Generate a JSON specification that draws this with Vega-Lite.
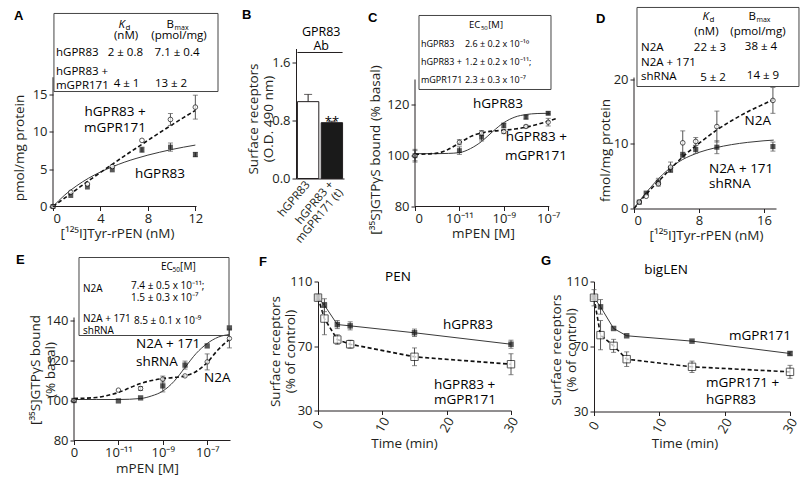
{
"$schema": "https://vega.github.io/schema/vega-lite/v6.json",
"padding": {"left": 12, "top": 6.5, "right": 2, "bottom": 2},
"config": {
 "font": "Open Sans",
 "view": {"stroke": null},
 "axis": {"grid": false, "labelSeparation": -60, "labelBound": false, "domainColor": "#231f20", "tickColor": "#231f20", "labelColor": "#231f20", "titleColor": "#231f20", "labelFontSize": 13, "titleFontSize": 13.5, "titleFontWeight": "normal", "tickSize": 4, "labelPadding": 2, "labelFont": "Open Sans", "titleFont": "Open Sans", "domainWidth": 1, "tickWidth": 1},
 "style": {
  "letter": {"font": "Liberation Sans", "fontSize": 13, "fontWeight": "bold", "align": "left", "baseline": "alphabetic", "fill": "#231f20"},
  "tbl": {"fontSize": 11.5, "align": "left", "baseline": "alphabetic", "fill": "#231f20"},
  "lbl": {"fontSize": 13.5, "align": "left", "baseline": "alphabetic", "fill": "#231f20"}
 }
},
"datasets": {
 "A_pts": [
  {"dose": 0, "value": 0, "series": "hGPR83"},
  {"dose": 1.5, "value": 1.47, "series": "hGPR83"},
  {"dose": 2.9, "value": 2.6, "series": "hGPR83"},
  {"dose": 5, "value": 4.9, "series": "hGPR83"},
  {"dose": 7.5, "value": 7.6, "series": "hGPR83", "sem": 0.35},
  {"dose": 9.9, "value": 7.95, "series": "hGPR83", "sem": 0.55},
  {"dose": 12, "value": 6.95, "series": "hGPR83", "sem": 0.3},
  {"dose": 0, "value": 0, "series": "hGPR83 + mGPR171"},
  {"dose": 1.5, "value": 1.9, "series": "hGPR83 + mGPR171"},
  {"dose": 2.9, "value": 3.0, "series": "hGPR83 + mGPR171"},
  {"dose": 5, "value": 5.35, "series": "hGPR83 + mGPR171"},
  {"dose": 7.5, "value": 8.85, "series": "hGPR83 + mGPR171"},
  {"dose": 9.9, "value": 11.65, "series": "hGPR83 + mGPR171", "sem": 0.8},
  {"dose": 12, "value": 13.3, "series": "hGPR83 + mGPR171", "sem": 1.6}
 ],
 "A_fit": [
  {"dose": 0, "value": 0, "series": "hGPR83"},
  {"dose": 1, "value": 1.55, "series": "hGPR83"},
  {"dose": 2, "value": 2.78, "series": "hGPR83"},
  {"dose": 3, "value": 3.79, "series": "hGPR83"},
  {"dose": 4, "value": 4.62, "series": "hGPR83"},
  {"dose": 5, "value": 5.31, "series": "hGPR83"},
  {"dose": 6, "value": 5.92, "series": "hGPR83"},
  {"dose": 7, "value": 6.43, "series": "hGPR83"},
  {"dose": 8, "value": 6.88, "series": "hGPR83"},
  {"dose": 9, "value": 7.27, "series": "hGPR83"},
  {"dose": 10, "value": 7.63, "series": "hGPR83"},
  {"dose": 11, "value": 7.94, "series": "hGPR83"},
  {"dose": 12, "value": 8.22, "series": "hGPR83"},
  {"dose": 0, "value": 0, "series": "hGPR83 + mGPR171"},
  {"dose": 1, "value": 1.15, "series": "hGPR83 + mGPR171"},
  {"dose": 2, "value": 2.3, "series": "hGPR83 + mGPR171"},
  {"dose": 3, "value": 3.45, "series": "hGPR83 + mGPR171"},
  {"dose": 4, "value": 4.55, "series": "hGPR83 + mGPR171"},
  {"dose": 5, "value": 5.65, "series": "hGPR83 + mGPR171"},
  {"dose": 6, "value": 6.75, "series": "hGPR83 + mGPR171"},
  {"dose": 7, "value": 7.8, "series": "hGPR83 + mGPR171"},
  {"dose": 8, "value": 8.85, "series": "hGPR83 + mGPR171"},
  {"dose": 9, "value": 9.9, "series": "hGPR83 + mGPR171"},
  {"dose": 10, "value": 10.9, "series": "hGPR83 + mGPR171"},
  {"dose": 11, "value": 11.9, "series": "hGPR83 + mGPR171"},
  {"dose": 12, "value": 12.85, "series": "hGPR83 + mGPR171"}
 ],
 "B_bars": [
  {"group": "hGPR83", "od": 1.06, "od_upper": 1.16},
  {"group": "hGPR83 + mGPR171 (t)", "od": 0.77, "od_upper": 0.79}
 ],
 "C_pts": [
  {"log_mPEN": -13, "value": 100, "series": "hGPR83", "sem": 2},
  {"log_mPEN": -11, "value": 102, "series": "hGPR83", "sem": 1.5},
  {"log_mPEN": -10, "value": 107.3, "series": "hGPR83", "sem": 1.5},
  {"log_mPEN": -9, "value": 111.9, "series": "hGPR83", "sem": 1},
  {"log_mPEN": -8, "value": 115.2, "series": "hGPR83", "sem": 0.8},
  {"log_mPEN": -7, "value": 116.7, "series": "hGPR83", "sem": 0.6},
  {"log_mPEN": -13, "value": 100, "series": "hGPR83 + mGPR171", "sem": 2.5},
  {"log_mPEN": -11, "value": 105.3, "series": "hGPR83 + mGPR171", "sem": 1},
  {"log_mPEN": -10, "value": 108.9, "series": "hGPR83 + mGPR171", "sem": 1},
  {"log_mPEN": -9, "value": 109.5, "series": "hGPR83 + mGPR171", "sem": 0.8},
  {"log_mPEN": -8, "value": 111.5, "series": "hGPR83 + mGPR171", "sem": 0.5},
  {"log_mPEN": -7, "value": 113.2, "series": "hGPR83 + mGPR171", "sem": 1.5}
 ],
 "C_fit": [
  {"log_mPEN": -13, "value": 100.8, "series": "hGPR83"},
  {"log_mPEN": -12, "value": 100.8, "series": "hGPR83"},
  {"log_mPEN": -11.5, "value": 100.9, "series": "hGPR83"},
  {"log_mPEN": -11, "value": 101.2, "series": "hGPR83"},
  {"log_mPEN": -10.5, "value": 102.8, "series": "hGPR83"},
  {"log_mPEN": -10, "value": 105.6, "series": "hGPR83"},
  {"log_mPEN": -9.5, "value": 109.5, "series": "hGPR83"},
  {"log_mPEN": -9, "value": 113, "series": "hGPR83"},
  {"log_mPEN": -8.5, "value": 115.2, "series": "hGPR83"},
  {"log_mPEN": -8, "value": 116.2, "series": "hGPR83"},
  {"log_mPEN": -7.5, "value": 116.6, "series": "hGPR83"},
  {"log_mPEN": -7, "value": 116.7, "series": "hGPR83"},
  {"log_mPEN": -6.9, "value": 116.7, "series": "hGPR83"},
  {"log_mPEN": -13, "value": 100.5, "series": "hGPR83 + mGPR171"},
  {"log_mPEN": -12, "value": 101, "series": "hGPR83 + mGPR171"},
  {"log_mPEN": -11.5, "value": 102.5, "series": "hGPR83 + mGPR171"},
  {"log_mPEN": -11, "value": 105, "series": "hGPR83 + mGPR171"},
  {"log_mPEN": -10.5, "value": 107.5, "series": "hGPR83 + mGPR171"},
  {"log_mPEN": -10, "value": 109, "series": "hGPR83 + mGPR171"},
  {"log_mPEN": -9.5, "value": 109.7, "series": "hGPR83 + mGPR171"},
  {"log_mPEN": -9, "value": 110, "series": "hGPR83 + mGPR171"},
  {"log_mPEN": -8.5, "value": 110.5, "series": "hGPR83 + mGPR171"},
  {"log_mPEN": -8, "value": 111.2, "series": "hGPR83 + mGPR171"},
  {"log_mPEN": -7.5, "value": 112.3, "series": "hGPR83 + mGPR171"},
  {"log_mPEN": -7, "value": 113.6, "series": "hGPR83 + mGPR171"},
  {"log_mPEN": -6.65, "value": 114.6, "series": "hGPR83 + mGPR171"}
 ],
 "D_pts": [
  {"dose": 0.65, "value": 0.98, "series": "N2A + 171 shRNA"},
  {"dose": 1.5, "value": 2.38, "series": "N2A + 171 shRNA"},
  {"dose": 3, "value": 4.08, "series": "N2A + 171 shRNA", "sem": 0.6},
  {"dose": 4.5, "value": 6.05, "series": "N2A + 171 shRNA", "sem": 0.45},
  {"dose": 6, "value": 8.32, "series": "N2A + 171 shRNA", "sem": 0.4},
  {"dose": 7.6, "value": 9.15, "series": "N2A + 171 shRNA", "sem": 0.6},
  {"dose": 10.2, "value": 9.5, "series": "N2A + 171 shRNA", "sem": 1.0},
  {"dose": 17.1, "value": 9.6, "series": "N2A + 171 shRNA", "sem": 0.7},
  {"dose": 0.65, "value": 1.0, "series": "N2A"},
  {"dose": 1.5, "value": 1.9, "series": "N2A"},
  {"dose": 3, "value": 3.83, "series": "N2A"},
  {"dose": 4.5, "value": 6.4, "series": "N2A", "sem": 0.8},
  {"dose": 6, "value": 10.18, "series": "N2A", "sem": 1.85},
  {"dose": 7.6, "value": 10.4, "series": "N2A", "sem": 0.6},
  {"dose": 10.2, "value": 12.7, "series": "N2A", "sem": 2.4},
  {"dose": 17.1, "value": 16.75, "series": "N2A", "sem": 2}
 ],
 "D_fit": [
  {"dose": 0, "value": 0, "series": "N2A + 171 shRNA"},
  {"dose": 1, "value": 1.7, "series": "N2A + 171 shRNA"},
  {"dose": 2, "value": 3.2, "series": "N2A + 171 shRNA"},
  {"dose": 3, "value": 4.6, "series": "N2A + 171 shRNA"},
  {"dose": 4, "value": 5.8, "series": "N2A + 171 shRNA"},
  {"dose": 5, "value": 6.8, "series": "N2A + 171 shRNA"},
  {"dose": 6, "value": 7.6, "series": "N2A + 171 shRNA"},
  {"dose": 7, "value": 8.2, "series": "N2A + 171 shRNA"},
  {"dose": 8, "value": 8.7, "series": "N2A + 171 shRNA"},
  {"dose": 10, "value": 9.4, "series": "N2A + 171 shRNA"},
  {"dose": 12, "value": 9.9, "series": "N2A + 171 shRNA"},
  {"dose": 14, "value": 10.25, "series": "N2A + 171 shRNA"},
  {"dose": 16, "value": 10.5, "series": "N2A + 171 shRNA"},
  {"dose": 17.2, "value": 10.6, "series": "N2A + 171 shRNA"},
  {"dose": 0, "value": 0, "series": "N2A"},
  {"dose": 1, "value": 1.5, "series": "N2A"},
  {"dose": 2, "value": 2.9, "series": "N2A"},
  {"dose": 3, "value": 4.2, "series": "N2A"},
  {"dose": 4, "value": 5.5, "series": "N2A"},
  {"dose": 5, "value": 6.8, "series": "N2A"},
  {"dose": 6, "value": 8.0, "series": "N2A"},
  {"dose": 7, "value": 9.1, "series": "N2A"},
  {"dose": 8, "value": 10.1, "series": "N2A"},
  {"dose": 10, "value": 12.0, "series": "N2A"},
  {"dose": 12, "value": 13.6, "series": "N2A"},
  {"dose": 14, "value": 15.0, "series": "N2A"},
  {"dose": 16, "value": 16.2, "series": "N2A"},
  {"dose": 17.2, "value": 16.9, "series": "N2A"}
 ],
 "E_pts": [
  {"log_mPEN": -13, "value": 100, "series": "N2A + 171 shRNA"},
  {"log_mPEN": -11, "value": 99.8, "series": "N2A + 171 shRNA"},
  {"log_mPEN": -10, "value": 101.3, "series": "N2A + 171 shRNA"},
  {"log_mPEN": -9, "value": 107.3, "series": "N2A + 171 shRNA", "sem": 3},
  {"log_mPEN": -8, "value": 117.7, "series": "N2A + 171 shRNA", "sem": 2},
  {"log_mPEN": -7, "value": 127.3, "series": "N2A + 171 shRNA"},
  {"log_mPEN": -6, "value": 136.3, "series": "N2A + 171 shRNA"},
  {"log_mPEN": -13, "value": 100, "series": "N2A"},
  {"log_mPEN": -11, "value": 105.2, "series": "N2A"},
  {"log_mPEN": -10, "value": 106, "series": "N2A", "sem": 1},
  {"log_mPEN": -9, "value": 110.7, "series": "N2A", "sem": 1.5},
  {"log_mPEN": -8, "value": 112.3, "series": "N2A"},
  {"log_mPEN": -7, "value": 119.3, "series": "N2A", "sem": 4},
  {"log_mPEN": -6, "value": 131, "series": "N2A", "sem": 4.7}
 ],
 "E_fit": [
  {"log_mPEN": -13, "value": 100.5, "series": "N2A + 171 shRNA"},
  {"log_mPEN": -12, "value": 100.5, "series": "N2A + 171 shRNA"},
  {"log_mPEN": -11, "value": 100.5, "series": "N2A + 171 shRNA"},
  {"log_mPEN": -10, "value": 101, "series": "N2A + 171 shRNA"},
  {"log_mPEN": -9.5, "value": 102.3, "series": "N2A + 171 shRNA"},
  {"log_mPEN": -9, "value": 104.7, "series": "N2A + 171 shRNA"},
  {"log_mPEN": -8.5, "value": 109.5, "series": "N2A + 171 shRNA"},
  {"log_mPEN": -8, "value": 116.5, "series": "N2A + 171 shRNA"},
  {"log_mPEN": -7.5, "value": 123.5, "series": "N2A + 171 shRNA"},
  {"log_mPEN": -7, "value": 128.5, "series": "N2A + 171 shRNA"},
  {"log_mPEN": -6.5, "value": 131.7, "series": "N2A + 171 shRNA"},
  {"log_mPEN": -6, "value": 133, "series": "N2A + 171 shRNA"},
  {"log_mPEN": -13, "value": 101, "series": "N2A"},
  {"log_mPEN": -12, "value": 101.5, "series": "N2A"},
  {"log_mPEN": -11.5, "value": 102.5, "series": "N2A"},
  {"log_mPEN": -11, "value": 104, "series": "N2A"},
  {"log_mPEN": -10.5, "value": 106.3, "series": "N2A"},
  {"log_mPEN": -10, "value": 108.5, "series": "N2A"},
  {"log_mPEN": -9.5, "value": 110, "series": "N2A"},
  {"log_mPEN": -9, "value": 111, "series": "N2A"},
  {"log_mPEN": -8.5, "value": 111.5, "series": "N2A"},
  {"log_mPEN": -8, "value": 112.3, "series": "N2A"},
  {"log_mPEN": -7.5, "value": 114.5, "series": "N2A"},
  {"log_mPEN": -7, "value": 119, "series": "N2A"},
  {"log_mPEN": -6.5, "value": 125.5, "series": "N2A"},
  {"log_mPEN": -6, "value": 130.5, "series": "N2A"}
 ],
 "F_pts": [
  {"time": 0, "value": 100, "series": "hGPR83", "sem": 1},
  {"time": 1, "value": 95.3, "series": "hGPR83", "sem": 4},
  {"time": 3, "value": 83.3, "series": "hGPR83", "sem": 2.5},
  {"time": 5, "value": 82.5, "series": "hGPR83", "sem": 2.5},
  {"time": 15, "value": 78.2, "series": "hGPR83", "sem": 2.3},
  {"time": 30, "value": 71.1, "series": "hGPR83", "sem": 2.5},
  {"time": 0, "value": 100, "series": "hGPR83 + mGPR171", "sem": 2},
  {"time": 1, "value": 87, "series": "hGPR83 + mGPR171", "sem": 10},
  {"time": 3, "value": 74, "series": "hGPR83 + mGPR171", "sem": 3},
  {"time": 5, "value": 71.1, "series": "hGPR83 + mGPR171", "sem": 2.5},
  {"time": 15, "value": 63.3, "series": "hGPR83 + mGPR171", "sem": 5.5},
  {"time": 30, "value": 58.7, "series": "hGPR83 + mGPR171", "sem": 6.5}
 ],
 "G_pts": [
  {"time": 0, "value": 100, "series": "mGPR171", "sem": 1},
  {"time": 1, "value": 94.4, "series": "mGPR171", "sem": 4.5},
  {"time": 3, "value": 81.1, "series": "mGPR171"},
  {"time": 5, "value": 76.6, "series": "mGPR171"},
  {"time": 15, "value": 73.3, "series": "mGPR171"},
  {"time": 30, "value": 65.7, "series": "mGPR171", "sem": 1},
  {"time": 0, "value": 100, "series": "mGPR171 + hGPR83", "sem": 5},
  {"time": 1, "value": 77, "series": "mGPR171 + hGPR83", "sem": 9},
  {"time": 3, "value": 70.4, "series": "mGPR171 + hGPR83", "sem": 4},
  {"time": 5, "value": 62.2, "series": "mGPR171 + hGPR83", "sem": 4.5},
  {"time": 15, "value": 57.5, "series": "mGPR171 + hGPR83", "sem": 3.5},
  {"time": 30, "value": 54.4, "series": "mGPR171 + hGPR83", "sem": 4}
 ]
},
"columns": 1,
"spacing": 8,
"concat": [
 {"hconcat": [
  {
   "width": 172, "height": 158,
   "layer": [
    {
     "encoding": {
      "x": {"field": "dose", "type": "quantitative", "scale": {"domain": [0, 14.5], "nice": false, "zero": false},
       "axis": {"values": [0,1,2,3,4,5,6,7,8,9,10,11,12], "labelOverlap": false, "labelSeparation": -60, "labelExpr": "datum.value % 2 == 0 ? datum.label : ''", "domain": false, "title": "[¹²⁵I]Tyr-rPEN (nM)", "titleX": 64, "titleY": 20}},
      "y": {"field": "value", "type": "quantitative", "scale": {"domain": [0, 21.15], "nice": false, "zero": false},
       "axis": {"values": [0,5,10,15], "labelOverlap": false, "labelSeparation": -60, "domain": false, "title": "pmol/mg protein", "titleX": -26.5, "titleY": 99}}
     },
     "layer": [
      {"data": {"name": "A_fit"}, "transform": [{"filter": "datum.series == 'hGPR83'"}], "mark": {"type": "line", "interpolate": "monotone", "color": "#3a3a3a", "strokeWidth": 1}},
      {"data": {"name": "A_fit"}, "transform": [{"filter": "datum.series == 'hGPR83 + mGPR171'"}], "mark": {"type": "line", "interpolate": "monotone", "color": "#111", "strokeWidth": 1.6, "strokeDash": [4, 2.5]}},
      {"data": {"name": "A_pts"}, "transform": [{"filter": "datum.sem > 0"}], "mark": {"type": "errorbar", "ticks": true, "size": 5, "thickness": 1, "color": "#555"}, "encoding": {"yError": {"field": "sem"}}},
      {"data": {"name": "A_pts"}, "transform": [{"filter": "datum.series == 'hGPR83'"}], "mark": {"type": "point", "shape": "square", "filled": true, "size": 24, "color": "#111"}},
      {"data": {"name": "A_pts"}, "transform": [{"filter": "datum.series != 'hGPR83'"}], "mark": {"type": "point", "shape": "circle", "filled": true, "fill": "white", "stroke": "#111", "strokeWidth": 1, "size": 22}}
     ]
    },
    {"data": {"values": [{}]}, "mark": {"type": "rule", "color": "#231f20"}, "encoding": {"x": {"datum": 0}, "y": {"datum": 0}, "y2": {"datum": 17.3}}},
    {"data": {"values": [{}]}, "mark": {"type": "rule", "color": "#231f20"}, "encoding": {"x": {"datum": 0}, "x2": {"datum": 12.1}, "y": {"datum": 0}}},
    {"data": {"values": [{}]}, "mark": {"type": "rect", "filled": false, "stroke": "#444", "strokeWidth": 1}, "encoding": {"x": {"datum": 0.08}, "x2": {"datum": 13.91}, "y": {"datum": 25.84}, "y2": {"datum": 15.39}}},
    {"data": {"values": [{}]}, "mark": {"type": "text", "style": "letter", "text": "A"}, "encoding": {"x": {"datum": -3.29}, "y": {"datum": 25.03}}},
    {"data": {"values": [{}]}, "mark": {"type": "text", "style": "tbl", "text": "K", "fontStyle": "italic", "align": "right"}, "encoding": {"x": {"datum": 6.07}, "y": {"datum": 23.96}}},
    {"data": {"values": [{}]}, "mark": {"type": "text", "style": "tbl", "text": "d", "fontSize": 8}, "encoding": {"x": {"datum": 6.11}, "y": {"datum": 23.69}}},
    {"data": {"values": [{}]}, "mark": {"type": "text", "style": "tbl", "text": "(nM)", "align": "center"}, "encoding": {"x": {"datum": 6.16}, "y": {"datum": 22.36}}},
    {"data": {"values": [{}]}, "mark": {"type": "text", "style": "tbl", "text": "B", "align": "right"}, "encoding": {"x": {"datum": 10.2}, "y": {"datum": 23.96}}},
    {"data": {"values": [{}]}, "mark": {"type": "text", "style": "tbl", "text": "max", "fontSize": 7}, "encoding": {"x": {"datum": 10.25}, "y": {"datum": 23.69}}},
    {"data": {"values": [{}]}, "mark": {"type": "text", "style": "tbl", "text": "(pmol/mg)", "align": "center"}, "encoding": {"x": {"datum": 10.62}, "y": {"datum": 22.36}}},
    {"data": {"values": [{}]}, "mark": {"type": "text", "style": "tbl", "text": "hGPR83"}, "encoding": {"x": {"datum": 0.25}, "y": {"datum": 20.08}}},
    {"data": {"values": [{}]}, "mark": {"type": "text", "style": "tbl", "text": "2 ± 0.8", "align": "center"}, "encoding": {"x": {"datum": 6.1}, "y": {"datum": 20.08}}},
    {"data": {"values": [{}]}, "mark": {"type": "text", "style": "tbl", "text": "7.1 ± 0.4", "align": "center"}, "encoding": {"x": {"datum": 10.46}, "y": {"datum": 20.21}}},
    {"data": {"values": [{}]}, "mark": {"type": "text", "style": "tbl", "text": ["hGPR83 +", "mGPR171"], "lineHeight": 14}, "encoding": {"x": {"datum": 0.25}, "y": {"datum": 17.54}}},
    {"data": {"values": [{}]}, "mark": {"type": "text", "style": "tbl", "text": "4 ± 1", "align": "center"}, "encoding": {"x": {"datum": 6.2}, "y": {"datum": 16.06}}},
    {"data": {"values": [{}]}, "mark": {"type": "text", "style": "tbl", "text": "13 ± 2", "align": "center"}, "encoding": {"x": {"datum": 9.95}, "y": {"datum": 16.06}}},
    {"data": {"values": [{}]}, "mark": {"type": "text", "style": "lbl", "text": ["hGPR83 +", "mGPR171"], "align": "center", "lineHeight": 16}, "encoding": {"x": {"datum": 5.23}, "y": {"datum": 12.18}}},
    {"data": {"values": [{}]}, "mark": {"type": "text", "style": "lbl", "text": "hGPR83", "align": "center"}, "encoding": {"x": {"datum": 9.02}, "y": {"datum": 3.88}}}
   ]
  },
  {
   "width": 48, "height": 130,
   "layer": [
    {
     "data": {"name": "B_bars"},
     "encoding": {
      "x": {"field": "group", "type": "nominal", "sort": null, "scale": {"paddingInner": 0.1, "paddingOuter": 0.06},
       "axis": {"title": null, "labelOverlap": false, "labelAngle": -50, "labelAlign": "right", "labelBaseline": "middle", "labelFontSize": 11.5, "ticks": false, "labelPadding": 4, "labelLineHeight": 12, "labelExpr": "datum.value == 'hGPR83' ? 'hGPR83' : ['hGPR83 +', 'mGPR171 (t)']"}},
      "y": {"field": "od", "type": "quantitative", "scale": {"domain": [0, 1.793], "nice": false},
       "axis": {"values": [0, 0.4, 0.8, 1.2, 1.6], "labelOverlap": false, "labelSeparation": -60, "format": ".1f", "title": ["Surface receptors", "(O.D. 490 nm)"], "titleX": -36, "titleY": 70}}
     },
     "layer": [
      {"mark": {"type": "bar", "stroke": "#231f20", "strokeWidth": 1}, "encoding": {"fill": {"field": "group", "type": "nominal", "scale": {"range": ["white", "#1a1a1a"]}, "legend": null}}},
      {"mark": {"type": "rule", "color": "#231f20"}, "encoding": {"y2": {"field": "od_upper"}}},
      {"mark": {"type": "tick", "orient": "horizontal", "size": 8, "thickness": 1, "color": "#231f20"}, "encoding": {"y": {"field": "od_upper", "type": "quantitative"}}}
     ]
    },
    {"data": {"values": [{}]}, "mark": {"type": "text", "style": "letter", "text": "B", "dx": -55.4}, "encoding": {"x": {"datum": "hGPR83", "bandPosition": 0}, "y": {"datum": 2.193}}},
    {"data": {"values": [{}]}, "mark": {"type": "text", "style": "tbl", "text": "GPR83", "align": "center", "fontSize": 12.5}, "encoding": {"x": {"datum": "hGPR83 + mGPR171 (t)", "bandPosition": 0}, "y": {"datum": 1.972}}},
    {"data": {"values": [{}]}, "mark": {"type": "text", "style": "tbl", "text": "Ab", "align": "center", "fontSize": 12.5}, "encoding": {"x": {"datum": "hGPR83 + mGPR171 (t)", "bandPosition": 0}, "y": {"datum": 1.766}}},
    {"data": {"values": [{}]}, "mark": {"type": "rule", "color": "#231f20"}, "encoding": {"x": {"datum": "hGPR83", "bandPosition": 0}, "x2": {"datum": "hGPR83 + mGPR171 (t)", "bandPosition": 1}, "y": {"datum": 1.738}}},
    {"data": {"values": [{}]}, "mark": {"type": "text", "style": "tbl", "text": "**", "align": "center", "fontSize": 13}, "encoding": {"x": {"datum": "hGPR83 + mGPR171 (t)", "bandPosition": 0.5}, "y": {"datum": 0.73}}}
   ]
  },
  {
   "width": 148, "height": 158,
   "layer": [
    {
     "encoding": {
      "x": {"field": "log_mPEN", "type": "quantitative", "scale": {"domain": [-13, -6.333], "nice": false, "zero": false},
       "axis": {"values": [-13,-12,-11,-10,-9,-8,-7], "labelOverlap": false, "labelSeparation": -60, "labelExpr": "datum.value == -13 ? '0' : datum.value == -11 ? '10⁻¹¹' : datum.value == -9 ? '10⁻⁹' : datum.value == -7 ? '10⁻⁷' : ''", "domain": false, "title": "mPEN [M]", "titleX": 68, "titleY": 20}},
      "y": {"field": "value", "type": "quantitative", "scale": {"domain": [80, 142.2], "nice": false, "zero": false},
       "axis": {"values": [80,90,100,110,120,130], "labelOverlap": false, "labelSeparation": -60, "domain": false, "title": "[³⁵S]GTPγS bound (% basal)", "titleX": -33, "titleY": 101}}
     },
     "layer": [
      {"data": {"name": "C_fit"}, "transform": [{"filter": "datum.series == 'hGPR83'"}], "mark": {"type": "line", "interpolate": "monotone", "color": "#3a3a3a", "strokeWidth": 1}},
      {"data": {"name": "C_fit"}, "transform": [{"filter": "datum.series != 'hGPR83'"}], "mark": {"type": "line", "interpolate": "monotone", "color": "#111", "strokeWidth": 1.6, "strokeDash": [4, 2.5]}},
      {"data": {"name": "C_pts"}, "transform": [{"filter": "datum.sem > 0"}], "mark": {"type": "errorbar", "ticks": true, "size": 5, "thickness": 1, "color": "#555"}, "encoding": {"yError": {"field": "sem"}}},
      {"data": {"name": "C_pts"}, "transform": [{"filter": "datum.series == 'hGPR83'"}], "mark": {"type": "point", "shape": "square", "filled": true, "size": 24, "color": "#111"}},
      {"data": {"name": "C_pts"}, "transform": [{"filter": "datum.series != 'hGPR83'"}], "mark": {"type": "point", "shape": "circle", "filled": true, "fill": "white", "stroke": "#111", "strokeWidth": 1, "size": 20}}
     ]
    },
    {"data": {"values": [{}]}, "mark": {"type": "rule", "color": "#231f20"}, "encoding": {"x": {"datum": -13}, "y": {"datum": 80}, "y2": {"datum": 130}}},
    {"data": {"values": [{}]}, "mark": {"type": "rule", "color": "#231f20"}, "encoding": {"x": {"datum": -13}, "x2": {"datum": -6.95}, "y": {"datum": 80}}},
    {"data": {"values": [{}]}, "mark": {"type": "rect", "filled": false, "stroke": "#444", "strokeWidth": 1}, "encoding": {"x": {"datum": -12.82}, "x2": {"datum": -6.874}, "y": {"datum": 155.2}, "y2": {"datum": 126.06}}},
    {"data": {"values": [{}]}, "mark": {"type": "text", "style": "letter", "text": "C"}, "encoding": {"x": {"datum": -15.117}, "y": {"datum": 152.8}}},
    {"data": {"values": [{}]}, "mark": {"type": "text", "style": "tbl", "text": "EC", "fontSize": 9.5}, "encoding": {"x": {"datum": -10.568}, "y": {"datum": 150.1}}},
    {"data": {"values": [{}]}, "mark": {"type": "text", "style": "tbl", "text": "50", "fontSize": 6}, "encoding": {"x": {"datum": -10.03}, "y": {"datum": 149.3}}},
    {"data": {"values": [{}]}, "mark": {"type": "text", "style": "tbl", "text": "[M]", "fontSize": 9.5}, "encoding": {"x": {"datum": -9.7}, "y": {"datum": 150.1}}},
    {"data": {"values": [{}]}, "mark": {"type": "text", "style": "tbl", "text": ["hGPR83", "hGPR83 +", "mGPR171"], "fontSize": 9, "lineHeight": 18}, "encoding": {"x": {"datum": -12.73}, "y": {"datum": 142.6}}},
    {"data": {"values": [{}]}, "mark": {"type": "text", "style": "tbl", "text": ["2.6 ± 0.2 x 10⁻¹⁰", "1.2 ± 0.2 x 10⁻¹¹;", "2.3 ± 0.3 x 10⁻⁷"], "fontSize": 9, "lineHeight": 18}, "encoding": {"x": {"datum": -10.75}, "y": {"datum": 142.6}}},
    {"data": {"values": [{}]}, "mark": {"type": "text", "style": "lbl", "text": "hGPR83", "align": "center"}, "encoding": {"x": {"datum": -9.261}, "y": {"datum": 118.6}}},
    {"data": {"values": [{}]}, "mark": {"type": "text", "style": "lbl", "text": ["hGPR83 +", "mGPR171"], "align": "right", "lineHeight": 19}, "encoding": {"x": {"datum": -6.153}, "y": {"datum": 105.6}}}
   ]
  },
  {
   "width": 142, "height": 160,
   "layer": [
    {
     "encoding": {
      "x": {"field": "dose", "type": "quantitative", "scale": {"domain": [0, 17.48], "nice": false, "zero": false},
       "axis": {"values": [0,2,4,6,8,10,12,14,16], "labelOverlap": false, "labelSeparation": -60, "labelExpr": "datum.value % 4 == 0 ? datum.label : ''", "title": "[¹²⁵I]Tyr-rPEN (nM)", "titleX": 72, "titleY": 20}},
      "y": {"field": "value", "type": "quantitative", "scale": {"domain": [0, 24.8], "nice": false, "zero": false},
       "axis": {"values": [0,5,10,15,20], "labelOverlap": false, "labelSeparation": -60, "domain": false, "title": "fmol/mg protein", "titleX": -22, "titleY": 101.5}}
     },
     "layer": [
      {"data": {"name": "D_fit"}, "transform": [{"filter": "datum.series != 'N2A'"}], "mark": {"type": "line", "interpolate": "monotone", "color": "#3a3a3a", "strokeWidth": 1}},
      {"data": {"name": "D_fit"}, "transform": [{"filter": "datum.series == 'N2A'"}], "mark": {"type": "line", "interpolate": "monotone", "color": "#111", "strokeWidth": 1.6, "strokeDash": [4, 2.5]}},
      {"data": {"name": "D_pts"}, "transform": [{"filter": "datum.sem > 0"}], "mark": {"type": "errorbar", "ticks": true, "size": 5, "thickness": 1, "color": "#555"}, "encoding": {"yError": {"field": "sem"}}},
      {"data": {"name": "D_pts"}, "transform": [{"filter": "datum.series != 'N2A'"}], "mark": {"type": "point", "shape": "square", "filled": true, "size": 26, "color": "#111"}},
      {"data": {"name": "D_pts"}, "transform": [{"filter": "datum.series == 'N2A'"}], "mark": {"type": "point", "shape": "circle", "filled": true, "fill": "white", "stroke": "#111", "strokeWidth": 1, "size": 22}}
     ]
    },
    {"data": {"values": [{}]}, "mark": {"type": "rule", "color": "#231f20"}, "encoding": {"x": {"datum": 0}, "y": {"datum": 0}, "y2": {"datum": 20.3}}},
    {"data": {"values": [{}]}, "mark": {"type": "rect", "filled": false, "stroke": "#444", "strokeWidth": 1}, "encoding": {"x": {"datum": 0.369}, "x2": {"datum": 20.308}, "y": {"datum": 31.16}, "y2": {"datum": 18.91}}},
    {"data": {"values": [{}]}, "mark": {"type": "text", "style": "letter", "text": "D"}, "encoding": {"x": {"datum": -4.677}, "y": {"datum": 28.68}}},
    {"data": {"values": [{}]}, "mark": {"type": "text", "style": "tbl", "text": "K", "fontStyle": "italic", "align": "right"}, "encoding": {"x": {"datum": 9.23}, "y": {"datum": 29.15}}},
    {"data": {"values": [{}]}, "mark": {"type": "text", "style": "tbl", "text": "d", "fontSize": 8}, "encoding": {"x": {"datum": 9.29}, "y": {"datum": 28.84}}},
    {"data": {"values": [{}]}, "mark": {"type": "text", "style": "tbl", "text": "(nM)", "align": "center"}, "encoding": {"x": {"datum": 8.92}, "y": {"datum": 26.82}}},
    {"data": {"values": [{}]}, "mark": {"type": "text", "style": "tbl", "text": "B", "align": "right"}, "encoding": {"x": {"datum": 15.02}, "y": {"datum": 29.15}}},
    {"data": {"values": [{}]}, "mark": {"type": "text", "style": "tbl", "text": "max", "fontSize": 7}, "encoding": {"x": {"datum": 15.08}, "y": {"datum": 28.84}}},
    {"data": {"values": [{}]}, "mark": {"type": "text", "style": "tbl", "text": "(pmol/mg)", "align": "center"}, "encoding": {"x": {"datum": 15.26}, "y": {"datum": 26.82}}},
    {"data": {"values": [{}]}, "mark": {"type": "text", "style": "tbl", "text": ["N2A", "N2A + 171", "shRNA"], "lineHeight": 14.5}, "encoding": {"x": {"datum": 0.862}, "y": {"datum": 24.34}}},
    {"data": {"values": [{}]}, "mark": {"type": "text", "style": "tbl", "text": "22 ± 3", "align": "center"}, "encoding": {"x": {"datum": 9.354}, "y": {"datum": 24.34}}},
    {"data": {"values": [{}]}, "mark": {"type": "text", "style": "tbl", "text": "38 ± 4", "align": "center"}, "encoding": {"x": {"datum": 15.63}, "y": {"datum": 24.5}}},
    {"data": {"values": [{}]}, "mark": {"type": "text", "style": "tbl", "text": "5 ± 2", "align": "center"}, "encoding": {"x": {"datum": 9.723}, "y": {"datum": 19.84}}},
    {"data": {"values": [{}]}, "mark": {"type": "text", "style": "tbl", "text": "14 ± 9", "align": "center"}, "encoding": {"x": {"datum": 15.88}, "y": {"datum": 20.0}}},
    {"data": {"values": [{}]}, "mark": {"type": "text", "style": "lbl", "text": "N2A", "align": "right"}, "encoding": {"x": {"datum": 16.86}, "y": {"datum": 12.87}}},
    {"data": {"values": [{}]}, "mark": {"type": "text", "style": "lbl", "text": ["N2A + 171", "shRNA"], "lineHeight": 15}, "encoding": {"x": {"datum": 9.231}, "y": {"datum": 5.58}}}
   ]
  }
 ], "spacing": 71, "bounds": "flush"},
 {"hconcat": [
  {
   "width": 182, "height": 159,
   "layer": [
    {
     "encoding": {
      "x": {"field": "log_mPEN", "type": "quantitative", "scale": {"domain": [-13.946, -5.748], "nice": false, "zero": false},
       "axis": {"values": [-13,-12,-11,-10,-9,-8,-7,-6], "labelOverlap": false, "labelSeparation": -60, "labelExpr": "datum.value == -13 ? '0' : datum.value == -11 ? '10⁻¹¹' : datum.value == -9 ? '10⁻⁹' : datum.value == -7 ? '10⁻⁷' : ''", "domain": false, "title": "mPEN [M]", "titleX": 94, "titleY": 21}},
      "y": {"field": "value", "type": "quantitative", "scale": {"domain": [80, 159.5], "nice": false, "zero": false},
       "axis": {"values": [80,90,100,110,120,130,140], "labelOverlap": false, "labelSeparation": -60, "offset": -21, "domain": false, "title": ["[³⁵S]GTPγS bound", "(% basal)"], "titleX": -32, "titleY": 88}}
     },
     "layer": [
      {"data": {"name": "E_fit"}, "transform": [{"filter": "datum.series != 'N2A'"}], "mark": {"type": "line", "interpolate": "monotone", "color": "#3a3a3a", "strokeWidth": 1}},
      {"data": {"name": "E_fit"}, "transform": [{"filter": "datum.series == 'N2A'"}], "mark": {"type": "line", "interpolate": "monotone", "color": "#111", "strokeWidth": 1.6, "strokeDash": [4, 2.5]}},
      {"data": {"name": "E_pts"}, "transform": [{"filter": "datum.sem > 0"}], "mark": {"type": "errorbar", "ticks": true, "size": 5, "thickness": 1, "color": "#555"}, "encoding": {"yError": {"field": "sem"}}},
      {"data": {"name": "E_pts"}, "transform": [{"filter": "datum.series != 'N2A'"}], "mark": {"type": "point", "shape": "square", "filled": true, "size": 28, "color": "#111"}},
      {"data": {"name": "E_pts"}, "transform": [{"filter": "datum.series == 'N2A'"}], "mark": {"type": "point", "shape": "circle", "filled": true, "fill": "white", "stroke": "#111", "strokeWidth": 1, "size": 20}}
     ]
    },
    {"data": {"values": [{}]}, "mark": {"type": "rule", "color": "#231f20"}, "encoding": {"x": {"datum": -13}, "y": {"datum": 80}, "y2": {"datum": 141.5}}},
    {"data": {"values": [{}]}, "mark": {"type": "rule", "color": "#231f20"}, "encoding": {"x": {"datum": -13}, "x2": {"datum": -5.95}, "y": {"datum": 80}}},
    {"data": {"values": [{}]}, "mark": {"type": "rect", "filled": false, "stroke": "#444", "strokeWidth": 1}, "encoding": {"x": {"datum": -12.775}, "x2": {"datum": -6.018}, "y": {"datum": 171.5}, "y2": {"datum": 132.5}}},
    {"data": {"values": [{}]}, "mark": {"type": "text", "style": "letter", "text": "E"}, "encoding": {"x": {"datum": -15.613}, "y": {"datum": 168.5}}},
    {"data": {"values": [{}]}, "mark": {"type": "text", "style": "tbl", "text": "EC", "fontSize": 10}, "encoding": {"x": {"datum": -9.081}, "y": {"datum": 165.5}}},
    {"data": {"values": [{}]}, "mark": {"type": "text", "style": "tbl", "text": "50", "fontSize": 6.5}, "encoding": {"x": {"datum": -8.56}, "y": {"datum": 164.5}}},
    {"data": {"values": [{}]}, "mark": {"type": "text", "style": "tbl", "text": "[M]", "fontSize": 10}, "encoding": {"x": {"datum": -8.22}, "y": {"datum": 165.5}}},
    {"data": {"values": [{}]}, "mark": {"type": "text", "style": "tbl", "text": "N2A", "fontSize": 10}, "encoding": {"x": {"datum": -12.595}, "y": {"datum": 154.5}}},
    {"data": {"values": [{}]}, "mark": {"type": "text", "style": "tbl", "text": ["7.4 ± 0.5 x 10⁻¹¹;", "1.5 ± 0.3 x 10⁻⁷"], "fontSize": 10, "lineHeight": 12}, "encoding": {"x": {"datum": -10.432}, "y": {"datum": 156}}},
    {"data": {"values": [{}]}, "mark": {"type": "text", "style": "tbl", "text": ["N2A + 171", "shRNA"], "fontSize": 10, "lineHeight": 12}, "encoding": {"x": {"datum": -12.595}, "y": {"datum": 139.5}}},
    {"data": {"values": [{}]}, "mark": {"type": "text", "style": "tbl", "text": "8.5 ± 0.1 x 10⁻⁹", "fontSize": 10}, "encoding": {"x": {"datum": -10.3}, "y": {"datum": 138.5}}},
    {"data": {"values": [{}]}, "mark": {"type": "text", "style": "lbl", "text": ["N2A + 171", "shRNA"], "lineHeight": 18}, "encoding": {"x": {"datum": -10.207}, "y": {"datum": 126.5}}},
    {"data": {"values": [{}]}, "mark": {"type": "text", "style": "lbl", "text": "N2A"}, "encoding": {"x": {"datum": -7.144}, "y": {"datum": 109.5}}}
   ]
  },
  {
   "width": 193, "height": 129,
   "layer": [
    {
     "data": {"name": "F_pts"},
     "encoding": {
      "x": {"field": "time", "type": "quantitative", "scale": {"domain": [0, 30], "nice": false},
       "axis": {"values": [0,5,10,15,20,25,30], "labelOverlap": false, "labelSeparation": -60, "labelExpr": "datum.value % 10 == 0 ? datum.label : ''", "labelAngle": -60, "labelAlign": "center", "labelBaseline": "middle", "labelPadding": 10, "title": "Time (min)", "titleX": 86, "titleY": 26}},
      "y": {"field": "value", "type": "quantitative", "scale": {"domain": [30, 110], "nice": false, "zero": false},
       "axis": {"values": [30,50,70,90,110], "labelOverlap": false, "labelSeparation": -60, "title": ["Surface receptors", "(% of control)"], "titleX": -36, "titleY": 69.5}}
     },
     "layer": [
      {"transform": [{"filter": "datum.series == 'hGPR83'"}], "mark": {"type": "line", "color": "#3a3a3a", "strokeWidth": 1}},
      {"transform": [{"filter": "datum.series != 'hGPR83'"}], "mark": {"type": "line", "color": "#111", "strokeWidth": 1.6, "strokeDash": [4, 2.5]}},
      {"transform": [{"filter": "datum.sem > 0"}], "mark": {"type": "errorbar", "ticks": true, "size": 5, "thickness": 1, "color": "#555"}, "encoding": {"yError": {"field": "sem"}}},
      {"transform": [{"filter": "datum.series == 'hGPR83'"}], "mark": {"type": "point", "shape": "square", "filled": true, "size": 30, "color": "#111"}},
      {"transform": [{"filter": "datum.series != 'hGPR83'"}], "mark": {"type": "point", "shape": "square", "filled": true, "fill": "white", "stroke": "#111", "strokeWidth": 1, "size": 55}}
     ]
    },
    {"data": {"values": [{}]}, "mark": {"type": "text", "style": "letter", "text": "F"}, "encoding": {"x": {"datum": -9.171}, "y": {"datum": 119.9}}},
    {"data": {"values": [{}]}, "mark": {"type": "text", "style": "lbl", "text": "PEN", "align": "center"}, "encoding": {"x": {"datum": 12.436}, "y": {"datum": 110.6}}},
    {"data": {"values": [{}]}, "mark": {"type": "text", "style": "lbl", "text": "hGPR83"}, "encoding": {"x": {"datum": 19.43}, "y": {"datum": 80.85}}},
    {"data": {"values": [{}]}, "mark": {"type": "text", "style": "lbl", "text": ["hGPR83 +", "mGPR171"], "lineHeight": 15}, "encoding": {"x": {"datum": 18.03}, "y": {"datum": 43.6}}}
   ]
  },
  {
   "width": 196, "height": 130,
   "layer": [
    {
     "data": {"name": "G_pts"},
     "encoding": {
      "x": {"field": "time", "type": "quantitative", "scale": {"domain": [0, 30], "nice": false},
       "axis": {"values": [0,5,10,15,20,25,30], "labelOverlap": false, "labelSeparation": -60, "labelExpr": "datum.value % 10 == 0 ? datum.label : ''", "labelAngle": -60, "labelAlign": "center", "labelBaseline": "middle", "labelPadding": 10, "title": "Time (min)", "titleX": 90.5, "titleY": 25}},
      "y": {"field": "value", "type": "quantitative", "scale": {"domain": [30, 110], "nice": false, "zero": false},
       "axis": {"values": [30,50,70,90,110], "labelOverlap": false, "labelSeparation": -60, "title": ["Surface receptors", "(% of control)"], "titleX": -31, "titleY": 68}}
     },
     "layer": [
      {"transform": [{"filter": "datum.series == 'mGPR171'"}], "mark": {"type": "line", "color": "#3a3a3a", "strokeWidth": 1}},
      {"transform": [{"filter": "datum.series != 'mGPR171'"}], "mark": {"type": "line", "color": "#111", "strokeWidth": 1.6, "strokeDash": [4, 2.5]}},
      {"transform": [{"filter": "datum.sem > 0"}], "mark": {"type": "errorbar", "ticks": true, "size": 5, "thickness": 1, "color": "#555"}, "encoding": {"yError": {"field": "sem"}}},
      {"transform": [{"filter": "datum.series == 'mGPR171'"}], "mark": {"type": "point", "shape": "square", "filled": true, "size": 30, "color": "#111"}},
      {"transform": [{"filter": "datum.series != 'mGPR171'"}], "mark": {"type": "point", "shape": "square", "filled": true, "fill": "white", "stroke": "#111", "strokeWidth": 1, "size": 55}}
     ]
    },
    {"data": {"values": [{}]}, "mark": {"type": "text", "style": "letter", "text": "G"}, "encoding": {"x": {"datum": -8.113}, "y": {"datum": 119.85}}},
    {"data": {"values": [{}]}, "mark": {"type": "text", "style": "lbl", "text": "bigLEN", "align": "center"}, "encoding": {"x": {"datum": 11.02}, "y": {"datum": 114.9}}},
    {"data": {"values": [{}]}, "mark": {"type": "text", "style": "lbl", "text": "mGPR171"}, "encoding": {"x": {"datum": 20.66}, "y": {"datum": 73.7}}},
    {"data": {"values": [{}]}, "mark": {"type": "text", "style": "lbl", "text": ["mGPR171 +", "hGPR83"], "lineHeight": 17}, "encoding": {"x": {"datum": 17.14}, "y": {"datum": 44.8}}}
   ]
  }
 ], "spacing": 83, "bounds": "flush"}
]
}
